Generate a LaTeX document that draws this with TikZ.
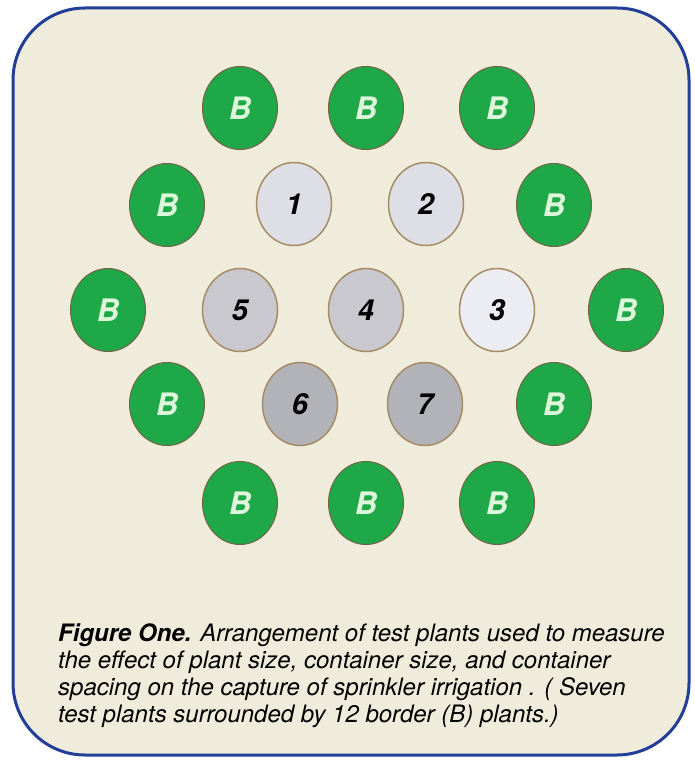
\documentclass[tikz,border=0pt]{standalone}
\usepackage{fontspec}
\setmainfont{TeX Gyre Heros}
\usetikzlibrary{shapes.geometric}
\definecolor{FigBeige}{RGB}{240,236,219}
\definecolor{FigBlue}{RGB}{34,62,150}
\definecolor{FigGreen}{RGB}{30,168,72}
\definecolor{FigRim}{RGB}{165,140,100}
\definecolor{FigLetter}{RGB}{222,246,218}
\definecolor{PotPale}{RGB}{236,237,242}
\definecolor{PotLight}{RGB}{222,223,230}
\definecolor{PotMid}{RGB}{200,200,206}
\definecolor{PotDark}{RGB}{178,179,184}

\begin{document}
\begin{tikzpicture}[x=1pt, y=-1pt]
    \tikzstyle{border}=[ellipse, draw=FigRim!70!black, line width=1pt, fill=FigGreen, minimum width=75pt, minimum height=83pt, inner sep=0pt, text=FigLetter, font=\bfseries\itshape\fontsize{31}{31}\selectfont]
    \tikzstyle{test}=[ellipse, draw=FigRim, line width=1.5pt, minimum width=75pt, minimum height=83pt, inner sep=0pt, text=black, font=\bfseries\itshape\fontsize{29}{29}\selectfont]
    \useasboundingbox (0,0) rectangle (695,760);
    \draw[FigBlue, line width=3pt, fill=FigBeige, rounded corners=72pt] (13,8) rectangle (689,755);

    % outer ring of border plants
    \node[border] (b1) at (240,108) {B};
    \node[border] (b2) at (366,108) {B};
    \node[border] (b3) at (497,108) {B};
    \node[border] (b4) at (167,205) {B};
    \node[border] (b5) at (554,205) {B};
    \node[border] (b6) at (108,310) {B};
    \node[border] (b7) at (626,310) {B};
    \node[border] (b8) at (167,404) {B};
    \node[border] (b9) at (554,404) {B};
    \node[border] (b10) at (240,503) {B};
    \node[border] (b11) at (366,503) {B};
    \node[border] (b12) at (497,503) {B};

    % test plants
    \node[test, fill=PotLight] (p1) at (294,204) {1};
    \node[test, fill=PotLight] (p2) at (426,204) {2};
    \node[test, fill=PotPale] (p3) at (497,310) {3};
    \node[test, fill=PotMid] (p4) at (366,310) {4};
    \node[test, fill=PotMid] (p5) at (240,310) {5};
    \node[test, fill=PotDark] (p6) at (300,404) {6};
    \node[test, fill=PotDark] (p7) at (425,404) {7};

    \node[anchor=north west, inner sep=0pt, align=left, font=\itshape\fontsize{24}{27}\selectfont] (caption) at (58,624)
        {\textbf{Figure One.} Arrangement of test plants used to measure\\
         the effect of plant size, container size, and container\\
         spacing on the capture of sprinkler irrigation . ( Seven\\
         test plants surrounded by 12 border (B) plants.)};
\end{tikzpicture}
\end{document}
